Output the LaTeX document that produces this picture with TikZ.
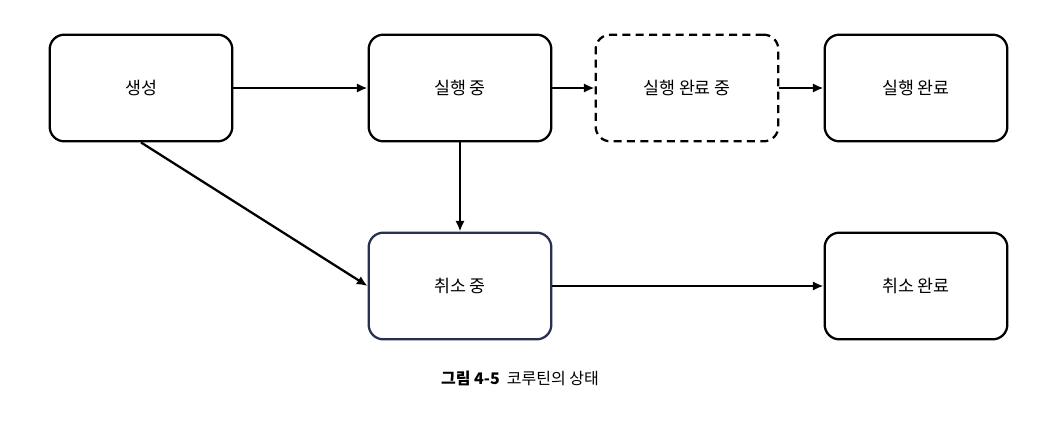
\documentclass[tikz,border=0pt]{standalone}
\usepackage{fontspec}
\setmainfont{Noto Sans CJK KR}
\usetikzlibrary{arrows.meta}

\definecolor{navy}{RGB}{40,48,80}

\tikzset{
	etat/.style={draw, line width=1.7pt, rounded corners=11pt, minimum width=137pt, minimum height=80pt, font=\fontsize{13}{16}\selectfont},
	fleche/.style={-{Latex[length=8pt,width=7pt]}, line width=1.7pt}
}

\begin{document}
\begin{tikzpicture}[x=0.75pt, y=-0.75pt]
		\useasboundingbox (0,0) rectangle (1064,436);
		\node[etat] (creation) at (141,88) {생성};
		\node[etat] (execution) at (460,88) {실행 중};
		\node[etat, dashed, dash pattern=on 6pt off 4pt] (finition) at (687,88) {실행 완료 중};
		\node[etat] (fini) at (916,88) {실행 완료};
		\node[etat, draw=navy] (annulation) at (460,286) {취소 중};
		\node[etat] (annule) at (916,286) {취소 완료};
		
		\draw[fleche] (creation) -- (execution);
		\draw[fleche] (execution) -- (finition);
		\draw[fleche] (finition) -- (fini);
		\draw[fleche] (execution) -- (annulation);
		\draw[fleche] (creation.south) -- (annulation.west);
		\draw[fleche] (annulation) -- (annule);
		
		\node (legende) at (520,378) {\fontsize{12}{14}\selectfont\textbf{그림 4-5}\ \ 코루틴의 상태};
	\end{tikzpicture}
\end{document}
